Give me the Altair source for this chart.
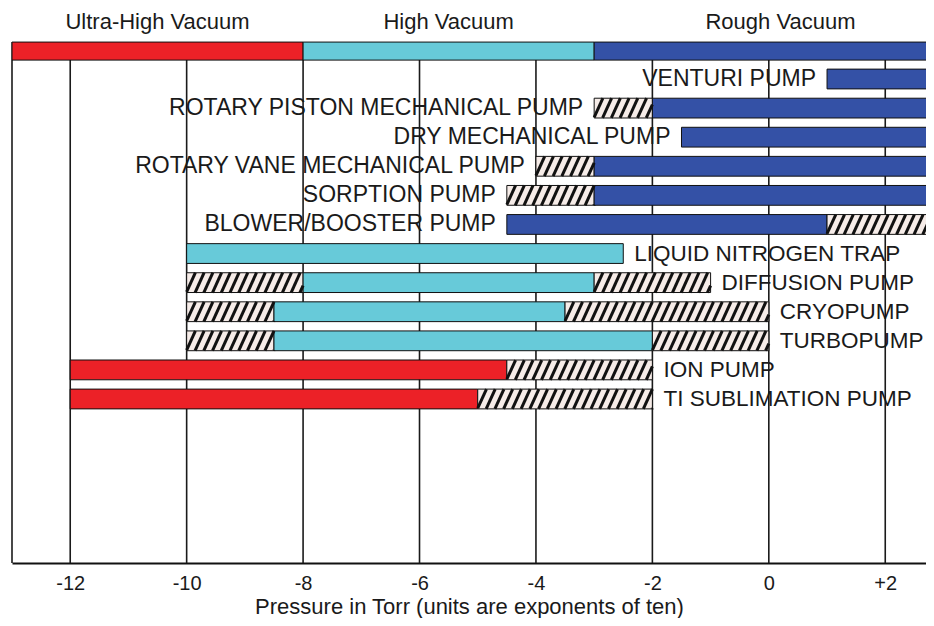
import altair as alt
import pandas as pd
import numpy as np

# ---------------- data ----------------
pumps = [
    "VENTURI PUMP",
    "ROTARY PISTON MECHANICAL PUMP",
    "DRY MECHANICAL PUMP",
    "ROTARY VANE MECHANICAL PUMP",
    "SORPTION PUMP",
    "BLOWER/BOOSTER PUMP",
    "LIQUID NITROGEN TRAP",
    "DIFFUSION PUMP",
    "CRYOPUMP",
    "TURBOPUMP",
    "ION PUMP",
    "TI SUBLIMATION PUMP",
]
label_side = ["left"] * 6 + ["right"] * 6

# segments: pump index, start, end (log10 Torr), kind
seg_pump = [0, 1, 1, 2, 3, 3, 4, 4, 5, 5, 6, 7, 7, 7, 8, 8, 8, 9, 9, 9, 10, 10, 11, 11]
seg_start = [1, -3, -2, -1.5, -4, -3, -4.5, -3, -4.5, 1, -10, -10, -8, -3, -10, -8.5, -3.5,
             -10, -8.5, -2, -12, -4.5, -12, -5]
seg_end = [3, -2, 3, 3, -3, 3, -3, 3, 1, 3, -2.5, -8, -3, -1, -8.5, -3.5, 0,
           -8.5, -2, 0, -4.5, -2, -5, -2]
seg_kind = ["rough", "hatch", "rough", "rough", "hatch", "rough", "hatch", "rough", "rough", "hatch",
            "high", "hatch", "high", "hatch", "hatch", "high", "hatch",
            "hatch", "high", "hatch", "uhv", "hatch", "uhv", "hatch"]

ranges = ["Ultra-High Vacuum", "High Vacuum", "Rough Vacuum"]
range_start = [-13, -8, -3]
range_end = [-8, -3, 3.4]
range_kind = ["uhv", "high", "rough"]

tick_values = [-12, -10, -8, -6, -4, -2, 0, 2]

kind_domain = ["uhv", "high", "rough", "hatch"]
kind_colors = ["#EC2127", "#67CAD9", "#3451A6", "#F6ECE8"]

# ---------------- layout ----------------
X_MIN, X_MAX = -13, 2.70
Y_TOP, Y_BOT = -2.441, 16.638
H = 0.34          # half bar height (rows)
BAND_Y = -0.96
BAND_H = 0.31
HEAD_Y = -1.96
HATCH_STEP = 0.15
HATCH_RUN = 0.155

xs = alt.Scale(domain=[X_MIN, X_MAX], nice=False, zero=False)
ys = alt.Scale(domain=[Y_TOP, Y_BOT], nice=False, zero=False, reverse=True)
cs = alt.Scale(domain=kind_domain, range=kind_colors)

seg = pd.DataFrame({"row": seg_pump, "x": seg_start, "x2": seg_end, "kind": seg_kind})
seg["y"] = seg["row"] - H
seg["y2"] = seg["row"] + H

# hatch stripes
hx, hx2, hy, hy2 = [], [], [], []
for _, r in seg[seg.kind == "hatch"].iterrows():
    a, b = r.x, min(r.x2, X_MAX + 0.5)
    x0 = a - HATCH_RUN
    while x0 < b:
        t0 = max(0.0, (a - x0) / HATCH_RUN)
        t1 = min(1.0, (b - x0) / HATCH_RUN)
        if t1 > t0:
            hx.append(x0 + HATCH_RUN * t0)
            hx2.append(x0 + HATCH_RUN * t1)
            hy.append(r.row + H - 2 * H * t0)
            hy2.append(r.row + H - 2 * H * t1)
        x0 += HATCH_STEP
hatch = pd.DataFrame({"x": hx, "x2": hx2, "y": hy, "y2": hy2})

labels = pd.DataFrame({"label": pumps, "side": label_side, "y": list(range(len(pumps)))})
labels["x"] = [
    seg[seg.row == i]["x"].min() if s == "left" else seg[seg.row == i]["x2"].max()
    for i, s in enumerate(label_side)
]

band = pd.DataFrame({"label": ranges, "x": range_start, "x2": range_end, "kind": range_kind})
band["y"] = BAND_Y - BAND_H
band["y2"] = BAND_Y + BAND_H
band["xc"] = (band["x"] + band["x2"]) / 2
band["yc"] = HEAD_Y

grid = pd.DataFrame({"x": tick_values, "y": BAND_Y + BAND_H, "y2": Y_BOT})
frame = pd.DataFrame({"x": [X_MIN], "y": [BAND_Y - BAND_H], "y2": [Y_BOT]})

FONT = "Liberation Sans"
TXT = "#1a1a1a"

xaxis = alt.Axis(
    values=tick_values,
    labelExpr="datum.value > 0 ? '+' + datum.value : '' + datum.value",
    grid=False, ticks=False,
    domainColor="#111", domainWidth=2,
    labelFont=FONT, labelFontSize=20, labelColor=TXT, labelPadding=10,
    title="Pressure in Torr (units are exponents of ten)",
    titleFont=FONT, titleFontSize=22, titleFontWeight="normal", titleColor=TXT,
    titlePadding=3,
)

X = lambda f="x": alt.X(f"{f}:Q", scale=xs, axis=xaxis)
Y = lambda f="y": alt.Y(f"{f}:Q", scale=ys, axis=None, title=None)

grid_l = alt.Chart(grid).mark_rule(color="#1a1a1a", strokeWidth=1.6).encode(
    x=X(), y=Y(), y2="y2:Q")
frame_l = alt.Chart(frame).mark_rule(color="#1a1a1a", strokeWidth=1.6).encode(
    x=X(), y=Y(), y2="y2:Q")

band_l = alt.Chart(band).mark_rect(stroke="#111", strokeWidth=1, clip=True).encode(
    x=X(), x2="x2:Q", y=Y(), y2="y2:Q",
    color=alt.Color("kind:N", scale=cs, legend=None))
head_l = alt.Chart(band).mark_text(font=FONT, fontSize=22, color=TXT, baseline="middle").encode(
    x=X("xc"), y=Y("yc"), text="label:N")

bars_l = alt.Chart(seg).mark_rect(stroke="#111", strokeWidth=1, clip=True).encode(
    x=X(), x2="x2:Q", y=Y(), y2="y2:Q",
    color=alt.Color("kind:N", scale=cs, legend=None))
hatch_l = alt.Chart(hatch).mark_rule(color="#111", strokeWidth=3, clip=True).encode(
    x=X(), x2="x2:Q", y=Y(), y2="y2:Q")

left_l = alt.Chart(labels[labels.side == "left"]).mark_text(
    font=FONT, fontSize=23, color=TXT, align="right", baseline="middle", dx=-11).encode(
    x=X(), y=Y(), text="label:N")
right_l = alt.Chart(labels[labels.side == "right"]).mark_text(
    font=FONT, fontSize=22.5, color=TXT, align="left", baseline="middle", dx=11).encode(
    x=X(), y=Y(), text="label:N")

chart = alt.layer(grid_l, frame_l, band_l, head_l, bars_l, hatch_l, left_l, right_l).properties(
    width=914, height=555,
    autosize=alt.AutoSizeParams(type="none"),
    padding={"left": 4, "top": 0, "right": 0, "bottom": 55},
    background="white",
).configure_view(stroke=None)

chart.save("out.html", embed_options={"renderer": "svg", "actions": False})
